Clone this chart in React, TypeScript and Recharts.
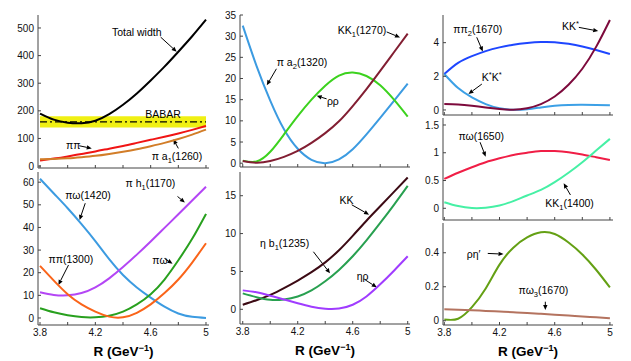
import React from 'react'
import { LineChart, Line, XAxis, YAxis, ReferenceLine, ReferenceDot, ReferenceArea } from 'recharts'

const rValues = [3.8, 3.9, 4.0, 4.1, 4.2, 4.3, 4.4, 4.5, 4.6, 4.7, 4.8, 4.9, 5.0]

// top left (MeV)
const totalWidth = [190, 168, 157, 155, 164, 188, 222, 263, 310, 360, 414, 470, 530]
const pipi = [20, 27, 35, 44, 53, 63, 73, 84, 95, 106, 118, 131, 145]
const piA1 = [25, 26, 28, 32, 37, 44, 52, 61, 72, 84, 98, 114, 132]
const babarLow = 140
const babarMid = 160
const babarHigh = 180

// bottom left
const piOmega1420 = [61.5, 55, 48.5, 41.5, 34, 26, 19, 13.5, 9, 5, 2, 0.5, 0]
const piH1 = [11.4, 10.2, 10, 11, 13.5, 17.5, 22.5, 28, 33.8, 39.8, 45.8, 51.9, 58]
const piOmega = [4.3, 2.5, 1.2, 0.4, 0.3, 1, 2.8, 6, 10.5, 17, 25.5, 35, 46]
const pipi1300 = [23, 16.5, 10.5, 6, 2.8, 0.6, 0.3, 2.3, 6, 11, 17, 24.5, 33]

// top middle
const piA2 = [32.5, 23, 14.8, 8, 3.4, 0.8, 0, 0.9, 3.3, 6.8, 10.7, 14.7, 18.8]
const rhoRho = [0.6, 0.4, 2.7, 6.8, 11.1, 15.0, 18.3, 20.7, 21.4, 20.6, 18.4, 15.0, 11]
const kk1270 = [0.5, 0.1, 0.5, 1.5, 2.9, 4.8, 7.1, 9.9, 13.5, 17.5, 21.8, 26.2, 30.6]

// bottom middle
const kk = [0.6, 1.2, 1.9, 2.8, 3.8, 4.9, 6.2, 7.8, 9.7, 11.7, 13.6, 15.5, 17.4]
const etaB1 = [2.1, 1.6, 1.25, 1.3, 1.7, 2.5, 3.7, 5.2, 7.0, 9.1, 11.4, 13.8, 16.3]
const etaRho = [2.5, 2.25, 1.8, 1.3, 0.8, 0.35, 0.08, 0.1, 0.6, 1.7, 3.3, 5.1, 7.0]

// top right
const pipi2 = [2.14, 2.8, 3.2, 3.5, 3.72, 3.88, 3.98, 4.04, 4.03, 3.93, 3.77, 3.56, 3.33]
const kStarKStar = [2.14, 1.3, 0.75, 0.35, 0.1, 0.01, 0.04, 0.15, 0.25, 0.3, 0.31, 0.3, 0.28]
const kkStar = [0.36, 0.33, 0.25, 0.15, 0.06, 0.01, 0.1, 0.35, 0.8, 1.5, 2.45, 3.75, 5.35]

// middle right
const piOmega1650 = [0.53, 0.64, 0.74, 0.83, 0.9, 0.96, 1.0, 1.03, 1.03, 1.01, 0.97, 0.92, 0.87]
const kk1400 = [0.11, 0.04, 0.005, 0.01, 0.05, 0.13, 0.23, 0.33, 0.47, 0.64, 0.83, 1.04, 1.25]

// bottom right
const rhoEtaPrime = [0.008, 0.012, 0.08, 0.19, 0.33, 0.43, 0.49, 0.52, 0.51, 0.46, 0.39, 0.3, 0.196]
const piOmega3 = [0.067, 0.065, 0.062, 0.058, 0.054, 0.05, 0.046, 0.041, 0.036, 0.031, 0.025, 0.02, 0.014]

const xTicks = [3.8, 4.0, 4.2, 4.4, 4.6, 4.8, 5.0]
const xLabelled = [3.8, 4.2, 4.6, 5.0]

type Series = { key: string; values: number[]; color: string }
type Part = [string, ('sub' | 'sup')?]

const buildRows = (series: Series[]) =>
  rValues.map((r, i) => {
    const row: Record<string, number> = { r }
    series.forEach(s => { row[s.key] = s.values[i] })
    return row
  })

const Rich = ({ x, y, parts }: { x: number; y: number; parts: Part[] }) => {
  let shift = 0
  return (
    <text x={x} y={y + 3.7} fontSize={10.5} fill="#000">
      {parts.map(([t, k], i) => {
        const target = k === 'sub' ? 3 : k === 'sup' ? -4 : 0
        const dy = target - shift
        shift = target
        return <tspan key={i} dy={dy} fontSize={k ? 7.5 : 10.5}>{t}</tspan>
      })}
    </text>
  )
}

const Arrow = (props: any) => {
  const { x1, y1, x2, y2 } = props
  const a = Math.atan2(y2 - y1, x2 - x1)
  const len = 5
  const half = 2.2
  const bx = x2 - len * Math.cos(a)
  const by = y2 - len * Math.sin(a)
  const pts = `${x2},${y2} ${bx - half * Math.sin(a)},${by + half * Math.cos(a)} ${bx + half * Math.sin(a)},${by - half * Math.cos(a)}`
  return (
    <g>
      <line x1={x1} y1={y1} x2={bx} y2={by} stroke="#000" strokeWidth={1} />
      <polygon points={pts} fill="#000" />
    </g>
  )
}

const note = (id: string, x: number, y: number, parts: Part[]) => (
  <ReferenceDot key={id} x={x} y={y} r={0} ifOverflow="visible"
    shape={(p: any) => <Rich x={p.cx} y={p.cy} parts={parts} />} />
)

const arrow = (id: string, x1: number, y1: number, x2: number, y2: number) => (
  <ReferenceLine key={id} segment={[{ x: x1, y: y1 }, { x: x2, y: y2 }]} ifOverflow="visible" shape={Arrow} />
)

const AxisTitle = (props: any) => {
  const vb = props.viewBox || { x: 0, y: 0, width: 0, height: 0 }
  return (
    <text x={vb.x + vb.width / 2} y={vb.y + vb.height - 5} textAnchor="middle" fontSize={13.5} fontWeight="bold" fill="#000">
      R (GeV<tspan dy={-5} fontSize={9}>−1</tspan><tspan dy={5}>)</tspan>
    </text>
  )
}

interface PanelProps {
  left: number
  top: number
  w: number
  h: number
  xDomain: [number, number]
  yDomain: [number, number]
  yTicks: number[]
  series: Series[]
  xLabels?: boolean
  children?: React.ReactNode
}

const Panel = ({ left, top, w, h, xDomain, yDomain, yTicks, series, xLabels, children }: PanelProps) => {
  const YW = 34
  const TOP = 8
  const XH = xLabels ? 36 : 8
  const fmtX = (v: number) => (xLabels && xLabelled.some(t => Math.abs(t - v) < 1e-6) ? String(v) : '')
  const tickStyle = { fontSize: 10, fill: '#111' }
  return (
    <div style={{ position: 'absolute', left: left - YW, top: top - TOP }}>
      <LineChart width={YW + w + 3} height={TOP + h + XH} data={buildRows(series)}
        margin={{ top: TOP, right: 3, left: 0, bottom: 0 }}>
        <XAxis dataKey="r" type="number" domain={xDomain} allowDataOverflow ticks={xTicks} interval={0}
          tickFormatter={fmtX} height={XH} tickSize={-3} tickMargin={7} stroke="#444" tick={tickStyle}
          label={xLabels ? <AxisTitle /> : undefined} />
        <XAxis xAxisId="top" orientation="top" dataKey="r" type="number" domain={xDomain} allowDataOverflow
          ticks={xTicks} interval={0} tickFormatter={() => ''} height={0} tickSize={-3} stroke="#444" />
        <YAxis type="number" domain={yDomain} allowDataOverflow ticks={yTicks} interval={0} width={YW}
          tickSize={-3} tickMargin={7} stroke="#444" tick={tickStyle} />
        <YAxis yAxisId="right" orientation="right" type="number" domain={yDomain} allowDataOverflow
          ticks={yTicks} interval={0} tickFormatter={() => ''} width={0} tickSize={-3} stroke="#444" />
        {children}
        {series.map(s => (
          <Line key={s.key} dataKey={s.key} type="natural" stroke={s.color} strokeWidth={2}
            dot={false} isAnimationActive={false} />
        ))}
      </LineChart>
    </div>
  )
}

const xLeft: [number, number] = [3.7855, 5.0217]
const xMid: [number, number] = [3.78, 5.0167]
const xRight: [number, number] = [3.7905, 5.0224]

export default function App() {
  return (
    <div style={{ position: 'absolute', left: 0, top: 0, width: 631, height: 361, background: '#fff',
      fontFamily: '"Liberation Sans", Arial, sans-serif' }}>
      <Panel left={38} top={15} w={171} h={153} xDomain={xLeft} yDomain={[-7, 547]}
        yTicks={[0, 100, 200, 300, 400, 500]}
        series={[
          { key: 'total', values: totalWidth, color: '#000000' },
          { key: 'pipi', values: pipi, color: '#f01414' },
          { key: 'pia1', values: piA1, color: '#d27d28' },
        ]}>
        <ReferenceArea x1={3.8} x2={5} y1={babarLow} y2={babarHigh} fill="#f0f014" fillOpacity={1} stroke="none" ifOverflow="visible" />
        <ReferenceLine segment={[{ x: 3.8, y: babarMid }, { x: 5, y: babarMid }]} stroke="#000" strokeWidth={1.3} strokeDasharray="7 3 2 3" />
        {note('n1', 4.32, 484, [['Total width']])}
        {arrow('a1', 4.672, 467, 4.788, 414)}
        {note('n2', 4.56, 186, [['BABAR']])}
        {note('n3', 3.988, 76, [['ππ']])}
        {arrow('a3', 4.084, 73.5, 4.174, 64)}
        {note('n4', 4.607, 33.7, [['π a'], ['1', 'sub'], ['(1260)']])}
        {arrow('a4', 4.80, 64, 4.764, 96.7)}
      </Panel>

      <Panel left={38} top={172} w={171} h={153} xDomain={xLeft} yDomain={[-3.1, 64.5]}
        yTicks={[0, 10, 20, 30, 40, 50, 60]} xLabels
        series={[
          { key: 'po1420', values: piOmega1420, color: '#3c9be1' },
          { key: 'ph1', values: piH1, color: '#b446f5' },
          { key: 'po', values: piOmega, color: '#28a01e' },
          { key: 'pp1300', values: pipi1300, color: '#fa6419' },
        ]}>
        {note('m1', 3.982, 54.4, [['πω(1420)']])}
        {arrow('b1', 4.127, 50.7, 4.086, 43.3)}
        {note('m2', 4.418, 59.6, [['π h'], ['1', 'sub'], ['(1170)']])}
        {arrow('b2', 4.794, 53.7, 4.847, 51.0)}
        {note('m3', 3.861, 25.9, [['ππ(1300)']])}
        {arrow('b3', 4.006, 23.4, 3.933, 14.6)}
        {note('m4', 4.612, 25.7, [['πω']])}
        {arrow('b4', 4.70, 26.3, 4.758, 24.0)}
      </Panel>

      <Panel left={240} top={15} w={170} h={152} xDomain={xMid} yDomain={[-0.9, 35]}
        yTicks={[0, 5, 10, 15, 20, 25, 30, 35]}
        series={[
          { key: 'pa2', values: piA2, color: '#3c9be1' },
          { key: 'rr', values: rhoRho, color: '#3cd21e' },
          { key: 'kk1', values: kk1270, color: '#821e32' },
        ]}>
        {note('k1', 4.491, 31.4, [['KK'], ['1', 'sub'], ['(1270)']])}
        {arrow('c1', 4.847, 31.0, 4.944, 29.7)}
        {note('k2', 4.047, 23.9, [['π a'], ['2', 'sub'], ['(1320)']])}
        {arrow('c2', 4.045, 22.3, 3.975, 18.4)}
        {note('k3', 4.412, 14.5, [['ρρ']])}
        {arrow('c3', 4.41, 15.2, 4.338, 15.9)}
      </Panel>

      <Panel left={240} top={172} w={170} h={152} xDomain={xMid} yDomain={[-1.94, 18.13]}
        yTicks={[0, 5, 10, 15]} xLabels
        series={[
          { key: 'kk', values: kk, color: '#3c0a14' },
          { key: 'eb1', values: etaB1, color: '#28a050' },
          { key: 'er', values: etaRho, color: '#a03cff' },
        ]}>
        {note('j1', 4.503, 14.4, [['KK']])}
        {arrow('d1', 4.593, 13.8, 4.719, 12.5)}
        {note('j2', 3.926, 8.7, [['η b'], ['1', 'sub'], ['(1235)']])}
        {arrow('d2', 4.314, 7.6, 4.435, 4.75)}
        {note('j3', 4.629, 4.3, [['ηρ']])}
        {arrow('d3', 4.69, 3.9, 4.775, 2.9)}
      </Panel>

      <Panel left={443} top={15} w={170} h={100} xDomain={xRight} yDomain={[-0.3, 5.645]}
        yTicks={[0, 2, 4]}
        series={[
          { key: 'pp2', values: pipi2, color: '#1e46ff' },
          { key: 'kskss', values: kStarKStar, color: '#3ca0e6' },
          { key: 'kks', values: kkStar, color: '#7d0a3c' },
        ]}>
        {note('h1', 3.865, 4.79, [['ππ'], ['2', 'sub'], ['(1670)']])}
        {arrow('e1', 4.035, 4.32, 4.079, 3.47)}
        {note('h2', 4.072, 1.94, [['K'], ['*', 'sup'], ['K'], ['*', 'sup']])}
        {arrow('e2', 4.072, 1.54, 3.975, 0.95)}
        {note('h3', 4.653, 4.95, [['KK'], ['*', 'sup']])}
        {arrow('e3', 4.775, 4.91, 4.915, 4.69)}
      </Panel>

      <Panel left={443} top={118} w={170} h={102} xDomain={xRight} yDomain={[-0.211, 1.626]}
        yTicks={[0, 0.5, 1, 1.5]}
        series={[
          { key: 'po1650', values: piOmega1650, color: '#f01e46' },
          { key: 'kk1400', values: kk1400, color: '#46f0a5' },
        ]}>
        {note('g1', 3.902, 1.29, [['πω(1650)']])}
        {arrow('f1', 4.059, 1.19, 4.1, 0.93)}
        {note('g2', 4.532, 0.09, [['KK'], ['1', 'sub'], ['(1400)']])}
        {arrow('f2', 4.714, 0.24, 4.665, 0.45)}
      </Panel>

      <Panel left={443} top={223} w={170} h={102} xDomain={xRight} yDomain={[-0.025, 0.575]}
        yTicks={[0, 0.2, 0.4]} xLabels
        series={[
          { key: 'rep', values: rhoEtaPrime, color: '#64a014' },
          { key: 'po3', values: piOmega3, color: '#b4735f' },
        ]}>
        {note('q1', 3.962, 0.392, [['ρη′']])}
        {arrow('r1', 4.115, 0.396, 4.229, 0.392)}
        {note('q2', 4.338, 0.18, [['πω'], ['3', 'sub'], ['(1670)']])}
        {arrow('r2', 4.532, 0.112, 4.532, 0.063)}
      </Panel>
    </div>
  )
}
